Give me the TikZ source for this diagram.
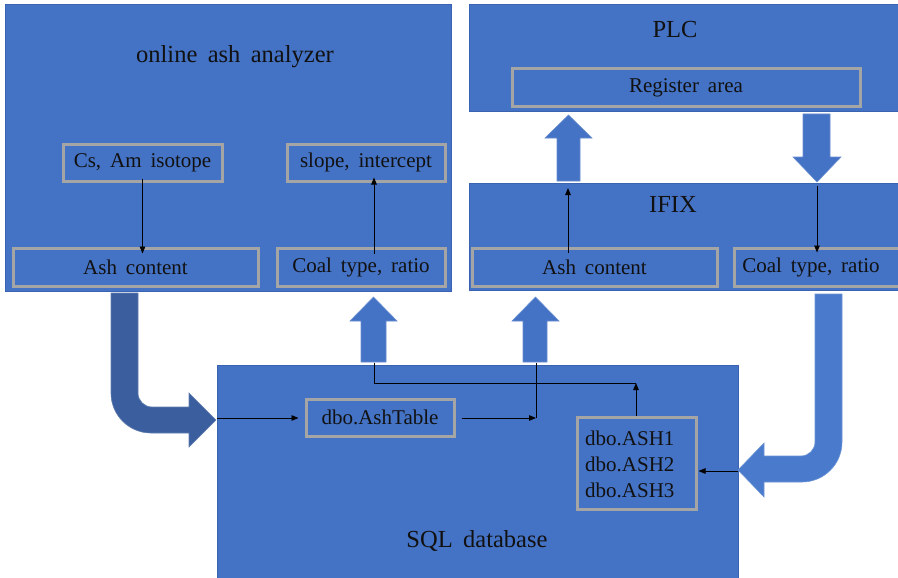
\documentclass[tikz,border=0pt]{standalone}
\usepackage{fontspec}
\setmainfont{Liberation Serif}
\newfontfamily\boxfont[WordSpace=1.7]{Liberation Serif}
\usetikzlibrary{arrows.meta}
\definecolor{fillblue}{HTML}{4472C4}
\definecolor{edgeblue}{HTML}{3A64B0}
\definecolor{boxgray}{HTML}{A5A5A5}
\definecolor{darkarrow}{HTML}{3B5F9E}
\definecolor{lightarrow}{HTML}{4A7ACC}
\definecolor{txt}{HTML}{111111}
\tikzset{
  obox/.style={fill=fillblue, draw=edgeblue, line width=1pt},
  ibox/.style={draw=boxgray, line width=3pt, fill=fillblue, inner sep=0pt, text=txt,
    font=\boxfont\fontsize{21}{24}\selectfont},
  title/.style={text=txt, font=\boxfont\fontsize{24.5}{28}\selectfont, inner sep=0pt},
  lbl/.style={text=txt, font=\boxfont\fontsize{21}{24}\selectfont, inner sep=0pt},
  conn/.style={draw=black, line width=0.9pt, -{Triangle[length=7pt,width=5.5pt]}},
  plain/.style={draw=black, line width=0.9pt},
  blockarrow/.style={fill=fillblue, draw=fillblue!80!white, line width=0.6pt},
}
\begin{document}
\begin{tikzpicture}[x=1pt,y=-1pt]
\useasboundingbox (0,0) rectangle (898,578);
\clip (0,0) rectangle (898,578);
\fill[white] (0,0) rectangle (898,578);

% outer boxes
\path[obox] (5,5) rectangle (451,291);
\path[obox] (469,5) rectangle (902,112);
\path[obox] (469,183) rectangle (902,290);
\path[obox] (217,365) rectangle (738,582);

% titles
\node[title] (tana) at (235,57) {online ash analyzer};
\node[title] (tplc) at (675,30) {PLC};
\node[title] (tifix) at (673,204) {IFIX};
\node[title] (tsql) at (477,541) {SQL database};

% inner boxes of analyzer
\node[ibox, minimum width=159pt, minimum height=37pt] (cs) at (142.5,162.5) {Cs, Am isotope};
\node[ibox, minimum width=158pt, minimum height=37pt] (slope) at (366,162.5) {slope, intercept};
\node[ibox, minimum width=245pt, minimum height=38pt] (ashA) at (135.5,267) {Ash content};
\node[ibox, minimum width=168pt, minimum height=38pt] (coalA) at (361,267) {Coal type, ratio};

% PLC
\node[ibox, minimum width=348pt, minimum height=38pt] (reg) at (686,88) {Register area};

% IFIX
\node[ibox, minimum width=245pt, minimum height=38pt] (ashI) at (594.5,267) {Ash content};
\node[ibox, minimum width=175pt, minimum height=38pt] (coalI) at (821.5,267) {};
\node[lbl] (coalIt) at (811,267) {Coal type, ratio};

% SQL
\node[ibox, minimum width=148pt, minimum height=37pt] (asht) at (380,417.5) {dbo.AshTable};
\node[ibox, minimum width=119pt, minimum height=92pt] (ashs) at (636.5,463) {};
\node[lbl, anchor=west, align=left, font=\boxfont\fontsize{21}{26}\selectfont] (ashst) at (585,464) {dbo.ASH1\\dbo.ASH2\\dbo.ASH3};

% block arrows (straight)
\path[blockarrow] (557,181) -- (557,138) -- (545,138) -- (568.5,115) -- (592,138) -- (580,138) -- (580,181) -- cycle;
\path[blockarrow] (803,114) -- (803,157) -- (793,157) -- (817,182) -- (841,157) -- (830,157) -- (830,114) -- cycle;
\path[blockarrow] (361,362) -- (361,321) -- (350,321) -- (373.5,297) -- (397,321) -- (386,321) -- (386,362) -- cycle;
\path[blockarrow] (523,362) -- (523,321) -- (512,321) -- (535.5,297) -- (559,321) -- (547,321) -- (547,362) -- cycle;

% curved block arrows
\path[fill=darkarrow, draw=darkarrow!80!white, line width=0.6pt]
  (111,293) -- (138,293) -- (138,393) .. controls (138,400.7) and (144.3,407) .. (152,407)
  -- (189,407) -- (189,393) -- (216,420) -- (189,447) -- (189,433) -- (151,433)
  .. controls (128.9,433) and (111,415.1) .. (111,393) -- cycle;
\path[fill=lightarrow, draw=lightarrow!80!white, line width=0.6pt]
  (815,294) -- (842,294) -- (842,442) .. controls (842,464.1) and (824.1,482) .. (802,482)
  -- (764,482) -- (764,497) -- (738,470) -- (764,443) -- (764,456) -- (801,456)
  .. controls (808.7,456) and (815,449.7) .. (815,442) -- cycle;

% thin connectors
\draw[conn] ([yshift=4pt]cs.south) -- ([yshift=-7pt]ashA.north -| cs.south);
\draw[conn] ([yshift=-7pt]coalA.north -| 374,0) -- ([yshift=5pt]slope.south -| 374,0);
\draw[conn] ([yshift=-6pt]ashI.north -| 568,0) -- (568,188);
\draw[conn] (817,186) -- ([yshift=-6pt]coalI.north -| 817,0);
\coordinate (sqlL) at (217,418);
\coordinate (sqlR) at (738,471);
\coordinate (jA) at (536,418);
\coordinate (jB) at (636,383);
\coordinate (arrL) at (374,363);
\coordinate (arrR) at (536,363);
\draw[conn] (sqlL) -- ([xshift=-6pt]asht.west |- sqlL);
\draw[conn] ([xshift=6pt]asht.east |- jA) -- (jA);
\draw[plain] (jA) -- (arrR);
\draw[conn] (ashs.north -| jB) -- (jB);
\draw[plain] (jB) -- (arrL |- jB) -- (arrL);
\draw[conn] (sqlR) -- ([xshift=1pt]ashs.east |- sqlR);
\end{tikzpicture}
\end{document}
